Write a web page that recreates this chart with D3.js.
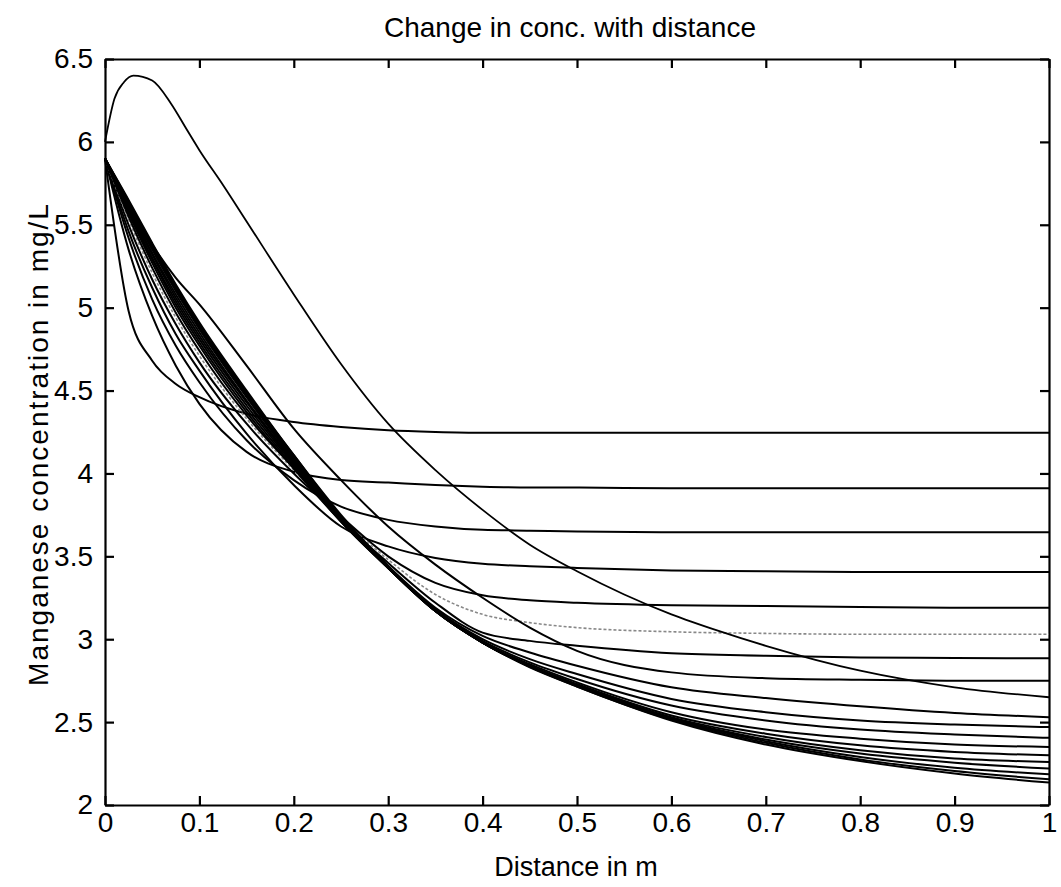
<!DOCTYPE html>
<html lang="en">
<head>
<meta charset="UTF-8">
<title>Change in conc. with distance</title>
<style>
  body { margin: 0; background: #fff; }
  svg { display: block; background: #fff; }
  text { font-family: "Liberation Sans", Arial, sans-serif; fill: #000; }
</style>
</head>
<body>
<div id="chart"></div>
<script src="https://d3js.org/d3.v7.min.js"></script>
<script>
// distance samples (m) shared by the plateau curves
const xGrid = [0, 0.025, 0.05, 0.075, 0.1, 0.15, 0.2, 0.25, 0.3, 0.35, 0.4, 0.45, 0.5, 0.6, 0.7, 0.8, 0.9, 1.0];

// concentration (mg/L), named by the level it ends at
const c425 = [5.90, 4.98, 4.68, 4.54, 4.46, 4.36, 4.31, 4.28, 4.26, 4.25, 4.245, 4.245, 4.245, 4.245, 4.245, 4.245, 4.245, 4.245];
const c392 = [5.90, 5.35, 4.95, 4.65, 4.42, 4.13, 4.01, 3.96, 3.945, 3.93, 3.92, 3.915, 3.915, 3.91, 3.91, 3.91, 3.91, 3.91];
const c365 = [5.90, 5.42, 5.05, 4.77, 4.55, 4.20, 3.96, 3.80, 3.72, 3.68, 3.66, 3.655, 3.65, 3.645, 3.645, 3.645, 3.645, 3.645];
const c340 = [5.90, 5.46, 5.12, 4.84, 4.62, 4.24, 3.93, 3.68, 3.56, 3.49, 3.455, 3.44, 3.43, 3.415, 3.41, 3.405, 3.405, 3.405];
const c319 = [5.90, 5.50, 5.17, 4.90, 4.67, 4.30, 4.00, 3.74, 3.50, 3.34, 3.265, 3.235, 3.22, 3.205, 3.20, 3.195, 3.19, 3.19];
const c303 = [5.90, 5.53, 5.21, 4.94, 4.71, 4.33, 4.02, 3.73, 3.48, 3.27, 3.15, 3.10, 3.07, 3.045, 3.035, 3.03, 3.03, 3.03];
const c288 = [5.90, 5.55, 5.24, 4.97, 4.74, 4.35, 4.03, 3.72, 3.46, 3.22, 3.04, 2.99, 2.96, 2.915, 2.90, 2.89, 2.887, 2.885];
const c275 = [5.90, 5.62, 5.38, 5.18, 5.02, 4.65, 4.27, 3.96, 3.68, 3.45, 3.25, 3.07, 2.93, 2.80, 2.765, 2.755, 2.75, 2.75];
const c253 = [5.90, 5.57, 5.27, 5.00, 4.77, 4.37, 4.03, 3.71, 3.44, 3.19, 3.02, 2.92, 2.84, 2.71, 2.645, 2.595, 2.555, 2.53];
const c247 = [5.90, 5.58, 5.29, 5.02, 4.79, 4.39, 4.04, 3.71, 3.43, 3.18, 3.00, 2.88, 2.79, 2.64, 2.56, 2.51, 2.485, 2.47];
const c241 = [5.90, 5.59, 5.30, 5.04, 4.81, 4.41, 4.05, 3.71, 3.43, 3.18, 2.99, 2.86, 2.76, 2.60, 2.51, 2.455, 2.425, 2.405];
const c235 = [5.90, 5.60, 5.32, 5.06, 4.83, 4.43, 4.06, 3.72, 3.43, 3.17, 2.98, 2.85, 2.74, 2.56, 2.455, 2.40, 2.365, 2.35];
const c230 = [5.90, 5.61, 5.33, 5.08, 4.85, 4.44, 4.07, 3.72, 3.43, 3.17, 2.98, 2.84, 2.73, 2.54, 2.43, 2.36, 2.32, 2.30];
const c226 = [5.90, 5.62, 5.35, 5.10, 4.87, 4.46, 4.08, 3.73, 3.43, 3.17, 2.98, 2.84, 2.725, 2.53, 2.41, 2.33, 2.28, 2.26];
const c222 = [5.90, 5.63, 5.36, 5.11, 4.88, 4.47, 4.09, 3.73, 3.43, 3.17, 2.98, 2.835, 2.72, 2.525, 2.395, 2.31, 2.255, 2.22];
const c218 = [5.90, 5.64, 5.37, 5.12, 4.89, 4.48, 4.10, 3.74, 3.44, 3.17, 2.98, 2.835, 2.72, 2.52, 2.385, 2.29, 2.225, 2.185];
const c215 = [5.90, 5.64, 5.38, 5.13, 4.90, 4.49, 4.11, 3.74, 3.44, 3.17, 2.98, 2.835, 2.715, 2.515, 2.375, 2.275, 2.205, 2.155];
const c213 = [5.90, 5.65, 5.39, 5.14, 4.91, 4.50, 4.11, 3.75, 3.44, 3.17, 2.98, 2.83, 2.715, 2.51, 2.365, 2.265, 2.19, 2.135];

// the one curve that rises first, sampled on its own grid
const peakX = [0, 0.01, 0.02, 0.03, 0.05, 0.07, 0.085, 0.1, 0.125, 0.15, 0.2, 0.25, 0.3, 0.35, 0.4, 0.45, 0.5, 0.55, 0.6, 0.65, 0.7, 0.8, 0.9, 1.0];
const peakY = [6.0, 6.26, 6.36, 6.40, 6.37, 6.23, 6.09, 5.95, 5.74, 5.52, 5.08, 4.66, 4.30, 4.02, 3.78, 3.57, 3.41, 3.27, 3.15, 3.05, 2.96, 2.81, 2.71, 2.65];

const xTicks = [0, 0.1, 0.2, 0.3, 0.4, 0.5, 0.6, 0.7, 0.8, 0.9, 1];
const yTicks = [2, 2.5, 3, 3.5, 4, 4.5, 5, 5.5, 6, 6.5];

const width = 1061, height = 887;
const margin = { top: 59, right: 12, bottom: 82, left: 105 };
const innerW = width - margin.left - margin.right;
const innerH = height - margin.top - margin.bottom;

const svg = d3.select('#chart').append('svg')
    .attr('width', width)
    .attr('height', height);

const x = d3.scaleLinear().domain([0, 1]).range([0, innerW]);
const y = d3.scaleLinear().domain([2, 6.5]).range([innerH, 0]);

const g = svg.append('g').attr('transform', `translate(${margin.left},${margin.top})`);

const fmt = d => d3.format('')(d);
const tickLen = 9;

// box axes, ticks pointing inwards like the original
g.append('g').attr('class', 'axis')
    .attr('transform', `translate(0,${innerH})`)
    .call(d3.axisBottom(x).tickValues(xTicks).tickFormat(fmt).tickSizeInner(-tickLen).tickSizeOuter(0).tickPadding(7));
g.append('g').attr('class', 'axis')
    .call(d3.axisTop(x).tickValues(xTicks).tickFormat('').tickSizeInner(-tickLen).tickSizeOuter(0));
g.append('g').attr('class', 'axis')
    .call(d3.axisLeft(y).tickValues(yTicks).tickFormat(fmt).tickSizeInner(-tickLen).tickSizeOuter(0).tickPadding(12));
g.append('g').attr('class', 'axis')
    .attr('transform', `translate(${innerW},0)`)
    .call(d3.axisRight(y).tickValues(yTicks).tickFormat('').tickSizeInner(-tickLen).tickSizeOuter(0));

g.selectAll('.axis path').attr('stroke', '#000').attr('stroke-width', 2.2);
g.selectAll('.axis line').attr('stroke', '#000').attr('stroke-width', 2.2);
g.selectAll('.axis text').attr('font-size', 28).attr('fill', '#000')
    .style('font-family', '"Liberation Sans", Arial, sans-serif');

const line = d3.line()
    .x(d => x(d[0]))
    .y(d => y(d[1]))
    .curve(d3.curveMonotoneX);

const plateauCurves = [
    { name: 'c425', values: c425 }, { name: 'c392', values: c392 },
    { name: 'c365', values: c365 }, { name: 'c340', values: c340 },
    { name: 'c319', values: c319 }, { name: 'c303', values: c303 },
    { name: 'c288', values: c288 }, { name: 'c275', values: c275 },
    { name: 'c253', values: c253 }, { name: 'c247', values: c247 },
    { name: 'c241', values: c241 }, { name: 'c235', values: c235 },
    { name: 'c230', values: c230 }, { name: 'c226', values: c226 },
    { name: 'c222', values: c222 }, { name: 'c218', values: c218 },
    { name: 'c215', values: c215 }, { name: 'c213', values: c213 }
];

const lines = g.append('g').attr('fill', 'none');

lines.selectAll('path.curve')
    .data(plateauCurves)
    .join('path')
    .attr('class', 'curve')
    .attr('d', d => line(d.values.map((v, i) => [xGrid[i], v])))
    .attr('stroke', d => d.name === 'c303' ? '#888' : '#000')
    .attr('stroke-dasharray', d => d.name === 'c303' ? '3,2' : null)
    .attr('stroke-width', d => d.name === 'c303' ? 1.6 : 2);

lines.append('path')
    .attr('d', line(peakY.map((v, i) => [peakX[i], v])))
    .attr('stroke', '#000')
    .attr('stroke-width', 1.8);

// titles
svg.append('text')
    .attr('x', 570)
    .attr('y', 37)
    .attr('text-anchor', 'middle')
    .attr('font-size', 28)
    .text('Change in conc. with distance');

svg.append('text')
    .attr('x', 576)
    .attr('y', 876)
    .attr('text-anchor', 'middle')
    .attr('font-size', 27)
    .text('Distance in m');

svg.append('text')
    .attr('transform', `translate(48,${margin.top + innerH / 2 + 12}) rotate(-90)`)
    .attr('text-anchor', 'middle')
    .attr('font-size', 28)
    .attr('letter-spacing', 2)
    .text('Manganese concentration in mg/L');
</script>
</body>
</html>
